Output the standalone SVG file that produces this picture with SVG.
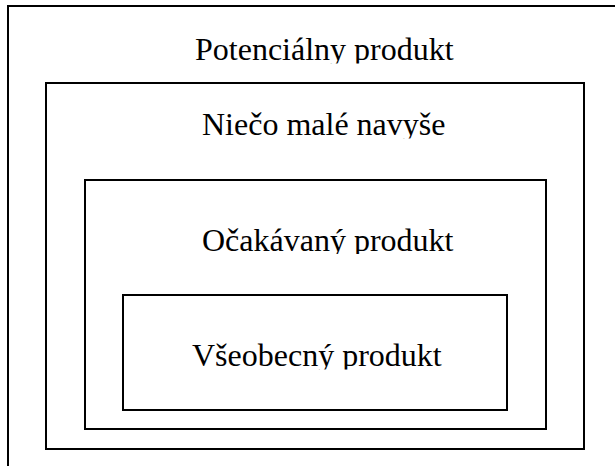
<svg xmlns="http://www.w3.org/2000/svg" width="615" height="466" viewBox="0 0 615 466">
<style>
.box{fill:none;stroke:#000;stroke-width:2}
.lbl{font-family:"Liberation Serif","Times New Roman",serif;font-size:32px;fill:#000}
</style>
<defs>
<clipPath id="c1"><rect x="0" y="0" width="615" height="63.5"/></clipPath>
<clipPath id="c2"><rect x="0" y="90" width="615" height="48.5"/></clipPath>
<clipPath id="c3"><rect x="0" y="190" width="615" height="64"/></clipPath>
<clipPath id="c4"><rect x="0" y="300" width="615" height="69.5"/></clipPath>
</defs>
<rect width="615" height="466" fill="#fff"/>
<g id="potencialny">
<path class="box" d="M8,466 V6 H615"/>
<text class="lbl" x="195" y="60" clip-path="url(#c1)">Potenciálny produkt</text>
</g>
<g id="nieco">
<rect class="box" x="46" y="83" width="538" height="366"/>
<text class="lbl" x="202" y="135" clip-path="url(#c2)">Niečo malé navyše</text>
</g>
<g id="ocakavany">
<rect class="box" x="85" y="180" width="461" height="249"/>
<text class="lbl" x="202" y="251" clip-path="url(#c3)">Očakávaný produkt</text>
</g>
<g id="vseobecny">
<rect class="box" x="123" y="295" width="384" height="115"/>
<text class="lbl" x="192" y="366" clip-path="url(#c4)">Všeobecný produkt</text>
</g>
<g id="connectors"></g>
</svg>
